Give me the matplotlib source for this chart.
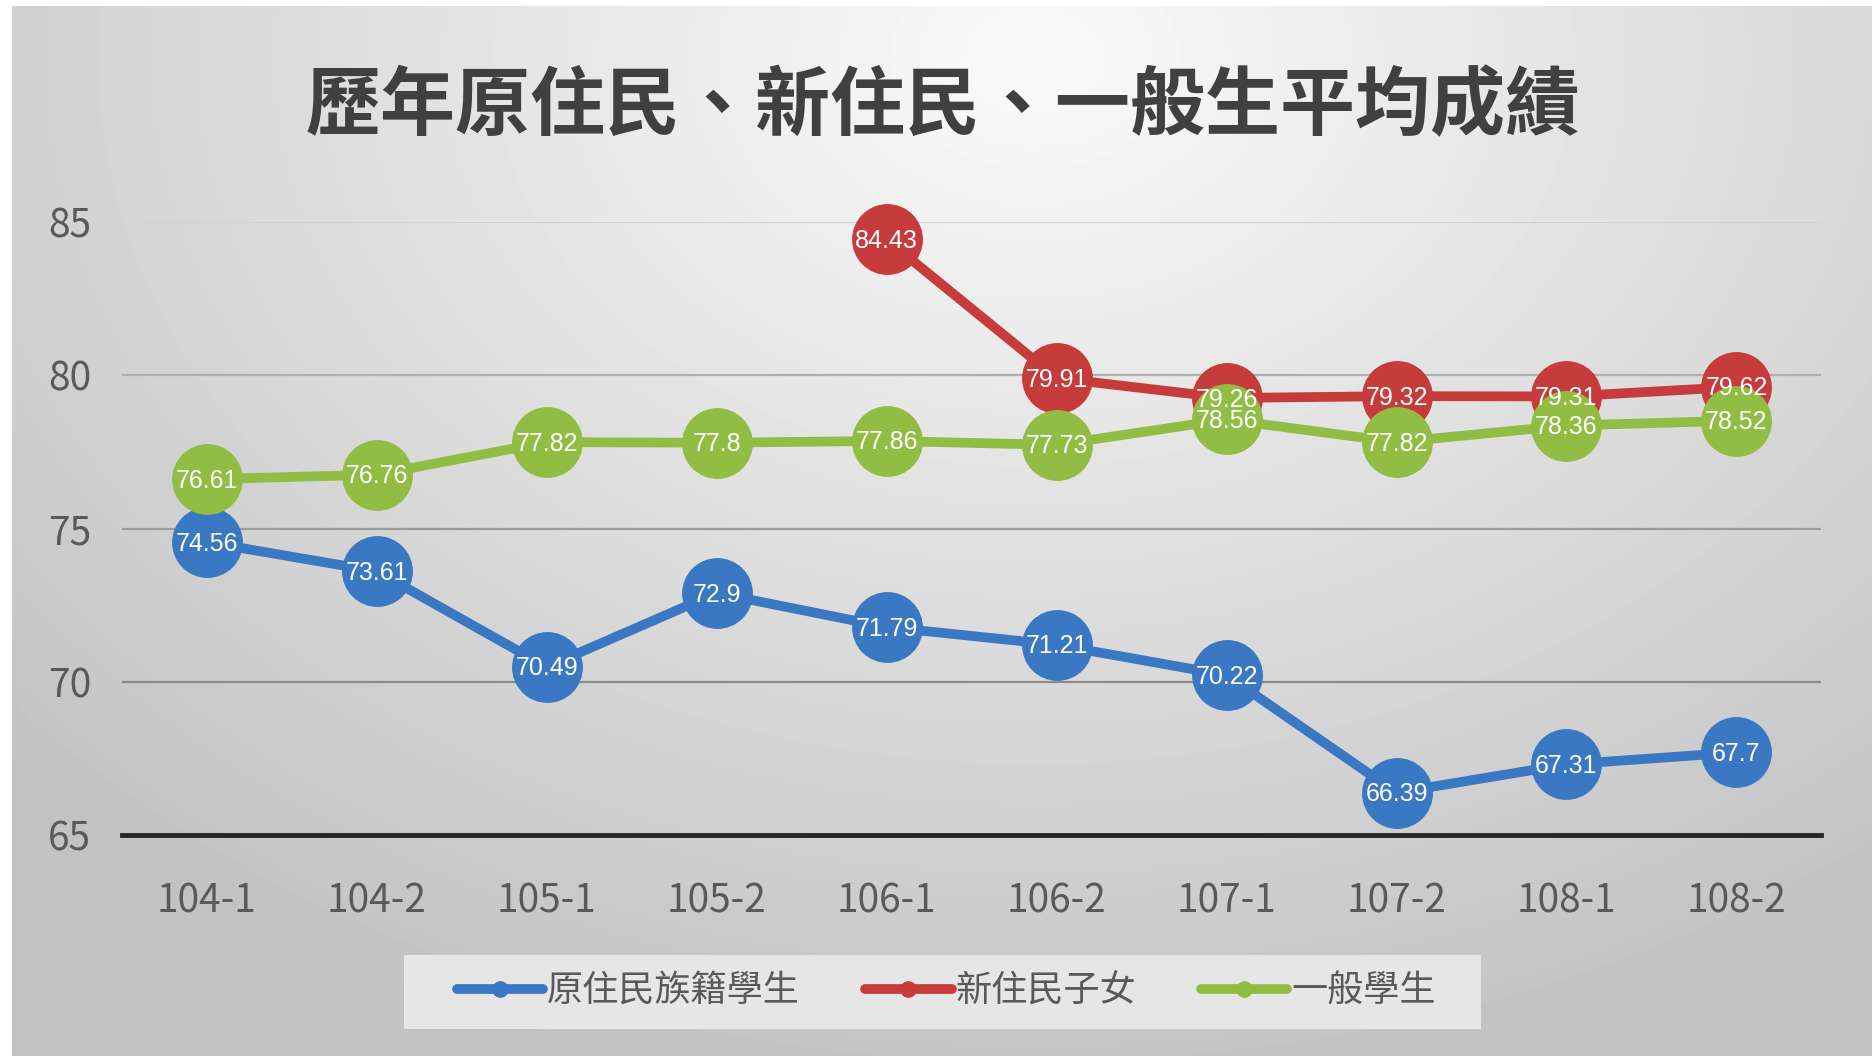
import matplotlib
matplotlib.use('Agg')
import matplotlib.pyplot as plt
from matplotlib.patches import Rectangle
import numpy as np

plt.rcParams['font.family'] = ['Noto Sans CJK TC', 'DejaVu Sans']

title = '歷年原住民、新住民、一般生平均成績'
terms = ['104-1', '104-2', '105-1', '105-2', '106-1', '106-2',
         '107-1', '107-2', '108-1', '108-2']
names = ['原住民族籍學生', '新住民子女', '一般學生']
indigenous = [74.56, 73.61, 70.49, 72.9, 71.79, 71.21, 70.22, 66.39, 67.31, 67.7]
new_immigrant = [np.nan, np.nan, np.nan, np.nan, 84.43, 79.91, 79.26, 79.32, 79.31, 79.62]
general = [76.61, 76.76, 77.82, 77.8, 77.86, 77.73, 78.56, 77.82, 78.36, 78.52]
yticks = [65, 70, 75, 80, 85]

colors = ['#3b78c3', '#c63b3b', '#92bd44']
series = [indigenous, new_immigrant, general]

fig = plt.figure(figsize=(18.72, 10.62), dpi=100)

# background with radial gradient
bg = fig.add_axes([12/1872, 6/1062, 1 - 12/1872, 1 - 12/1062])
bg.set_axis_off()
yy, xx = np.mgrid[0:1:300j, 0:1:500j]
r = np.sqrt(((xx - 0.55) / 0.75)**2 + ((yy - 0.05) / 1.0)**2)
shade = np.clip(0.98 - 0.22 * r, 0.76, 1.0)
bg.imshow(shade, cmap='gray', vmin=0, vmax=1, aspect='auto',
          extent=[0, 1, 1, 0], interpolation='bilinear')
bg.set_xlim(0, 1)
bg.set_ylim(1, 0)

ax = fig.add_axes([0.065, 0.2135, 0.908, 0.5775])
ax.set_facecolor('none')
x = np.arange(len(terms))
handles = []
for vals, c, n in zip(series, colors, names):
    h, = ax.plot(x, vals, color=c, lw=7, marker='o', markersize=50,
                 markeredgecolor=c, markerfacecolor=c, label=n, clip_on=False,
                 solid_capstyle='round')
    handles.append(h)
for vals in series:
    for xi, v in zip(x, vals):
        if np.isnan(v):
            continue
        ax.text(xi, v - 0.05, f'{v:g}', color='white', ha='center', va='center',
                fontsize=18, family=['Liberation Sans', 'DejaVu Sans'],
                zorder=5)

ax.set_xlim(-0.5, len(terms) - 0.5)
ax.set_ylim(65, 85)
ax.set_yticks(yticks)
ax.set_xticks(x)
ax.set_xticklabels(terms)
ax.tick_params(length=0, labelsize=28, labelcolor='#595959')
ax.tick_params(axis='x', pad=33)
ax.tick_params(axis='y', pad=22)
for lab in ax.get_xticklabels() + ax.get_yticklabels():
    lab.set_fontweight('light')
ax.yaxis.grid(True, lw=1.6)
grid_cols = ['#000000', '#8c8c8c', '#9c9c9c', '#b0b0b0', '#d2d2d2']
for gl, gc in zip(ax.yaxis.get_gridlines(), grid_cols):
    gl.set_color(gc)
ax.set_axisbelow(True)
for s in ['top', 'right', 'left']:
    ax.spines[s].set_visible(False)
ax.spines['bottom'].set_color('#262626')
ax.spines['bottom'].set_linewidth(3.5)

fig.text(0.504, 0.899, title, ha='center', va='center', fontsize=54,
         fontweight='bold', color='#404040')

# legend panel
fig.patches.append(Rectangle((0.2156, 0.0315), 0.5755, 0.0697,
                             transform=fig.transFigure, facecolor='#e6e6e6',
                             edgecolor='none', zorder=1))
leg = fig.legend(handles=handles, loc='center', bbox_to_anchor=(0.5054, 0.066),
                 ncol=3, fontsize=26, markerscale=0.22, handlelength=2.4,
                 handletextpad=0.1, columnspacing=1.8, frameon=False)
for t in leg.get_texts():
    t.set_color('#595959')

fig.savefig('out.png', dpi=100)
